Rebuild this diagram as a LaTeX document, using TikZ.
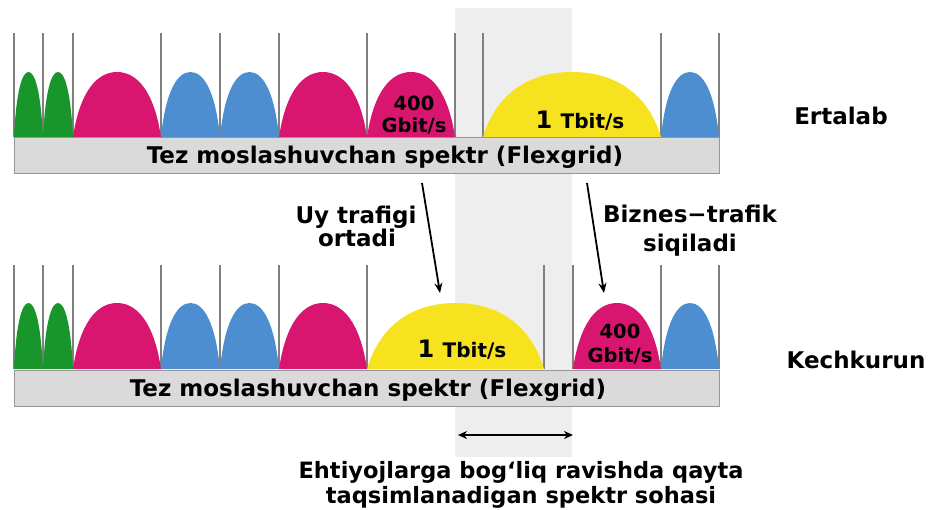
\documentclass[tikz,border=0pt]{standalone}
\usepackage{fontspec}
\setmainfont{DejaVu Sans}
\usetikzlibrary{arrows.meta}
\definecolor{chgreen}{RGB}{24,150,44}
\definecolor{chmagenta}{RGB}{216,22,112}
\definecolor{chblue}{RGB}{76,142,208}
\definecolor{chyellow}{RGB}{246,226,30}
\definecolor{barfill}{RGB}{218,218,218}
\definecolor{barline}{RGB}{150,150,150}
\definecolor{shadefill}{RGB}{238,238,238}
\definecolor{gridline}{RGB}{128,128,128}
% channel hump: colour, left x, right x, base y, peak y
\newcommand\chanhump[5]{%
  \pgfmathsetmacro\hw{#3-#2}%
  \pgfmathsetmacro\hh{#5-#4}%
  \fill[#1] (#2,#4) .. controls ({#2+0.08*\hw},{#4+0.72*\hh}) and ({#2+0.28*\hw},#5) .. ({#2+0.5*\hw},#5)
    .. controls ({#2+0.72*\hw},#5) and ({#2+0.92*\hw},{#4+0.72*\hh}) .. (#3,#4) -- cycle;}
\tikzset{
  sep/.style={draw=gridline, line width=1.3pt},
  spbar/.style={draw=barline, fill=barfill, line width=1pt, minimum width=705pt, minimum height=36pt, inner sep=0pt},
  bartext/.style={font=\fontsize{23}{26}\selectfont\bfseries, inner sep=0pt, anchor=base},
  lbl/.style={font=\fontsize{23}{26}\selectfont\bfseries, inner sep=0pt, anchor=base},
  notelbl/.style={font=\fontsize{22.5}{26}\selectfont\bfseries, inner sep=0pt, anchor=base},
  ratelbl/.style={font=\fontsize{19.5}{22}\selectfont\bfseries, inner sep=0pt, anchor=base},
  tbitlbl/.style={inner sep=0pt, anchor=base},
  pointer/.style={line width=1.8pt, -{Stealth[length=10pt,width=8pt]}},
  span/.style={line width=1.8pt, {Stealth[length=9pt,width=8pt]}-{Stealth[length=9pt,width=8pt]}}
}
\newcommand\tbit{\bfseries\fontsize{24}{26}\selectfont 1 \fontsize{20}{22}\selectfont Tbit/s}
\begin{document}
\begin{tikzpicture}[x=1pt,y=-1pt]
\useasboundingbox (0,0) rectangle (929,509);
% reallocatable spectrum band
\fill[shadefill] (455,8) rectangle (572,457);
% ---- morning row ----
\foreach \gx in {14,43,73,161,220,279,367,455,483,661,719}
  \draw[sep] (\gx,33) -- (\gx,137);
\chanhump{chgreen}{14}{43}{137}{72}
\chanhump{chgreen}{43}{73}{137}{72}
\chanhump{chmagenta}{73}{161}{137}{72}
\chanhump{chblue}{161}{220}{137}{72}
\chanhump{chblue}{220}{279}{137}{72}
\chanhump{chmagenta}{279}{367}{137}{72}
\chanhump{chmagenta}{367}{455}{137}{72}
\chanhump{chyellow}{483}{661}{137}{72}
\chanhump{chblue}{661}{719}{137}{72}
\node[spbar] (bar1) at (366.5,155) {};
\node[bartext] (bar1t) at (385,163) {Tez moslashuvchan spektr (Flexgrid)};
\node[ratelbl] (r1a) at (414,110) {400};
\node[ratelbl] (r1b) at (414,132) {Gbit/s};
\node[tbitlbl] (r1c) at (580,128) {\tbit};
\node[lbl] (morn) at (841,124) {Ertalab};
% ---- evening row ----
\foreach \gx in {14,43,73,161,220,279,367,544,573,661,719}
  \draw[sep] (\gx,265) -- (\gx,369);
\chanhump{chgreen}{14}{43}{369}{303}
\chanhump{chgreen}{43}{73}{369}{303}
\chanhump{chmagenta}{73}{161}{369}{303}
\chanhump{chblue}{161}{220}{369}{303}
\chanhump{chblue}{220}{279}{369}{303}
\chanhump{chmagenta}{279}{367}{369}{303}
\chanhump{chyellow}{367}{544}{369}{303}
\chanhump{chmagenta}{573}{661}{369}{303}
\chanhump{chblue}{661}{719}{369}{303}
\node[spbar] (bar2) at (366.5,388) {};
\node[bartext] (bar2t) at (368,396) {Tez moslashuvchan spektr (Flexgrid)};
\node[ratelbl] (r2a) at (620,338) {400};
\node[ratelbl] (r2b) at (620,362) {Gbit/s};
\node[tbitlbl] (r2c) at (462,357) {\tbit};
\node[lbl] (eve) at (856,368) {Kechkurun};
% ---- shifts between the rows ----
\node[lbl] (home1) at (356,223) {Uy trafigi};
\node[lbl] (home2) at (357,246) {ortadi};
\node[lbl] (biz1) at (690,222) {Biznes−trafik};
\node[lbl] (biz2) at (690,251) {siqiladi};
\coordinate (ha) at (422,183);
\coordinate (hb) at (440,293);
\coordinate (ba) at (587,183);
\coordinate (bb) at (604,293);
\draw[pointer] (ha) -- (hb);
\draw[pointer] (ba) -- (bb);
% width of the band
\coordinate (wa) at (458,435);
\coordinate (wb) at (573,435);
\draw[span] (wa) -- (wb);
\node[notelbl] (note1) at (521,478) {Ehtiyojlarga bog‘liq ravishda qayta};
\node[notelbl] (note2) at (521,503) {taqsimlanadigan spektr sohasi};
\end{tikzpicture}
\end{document}
